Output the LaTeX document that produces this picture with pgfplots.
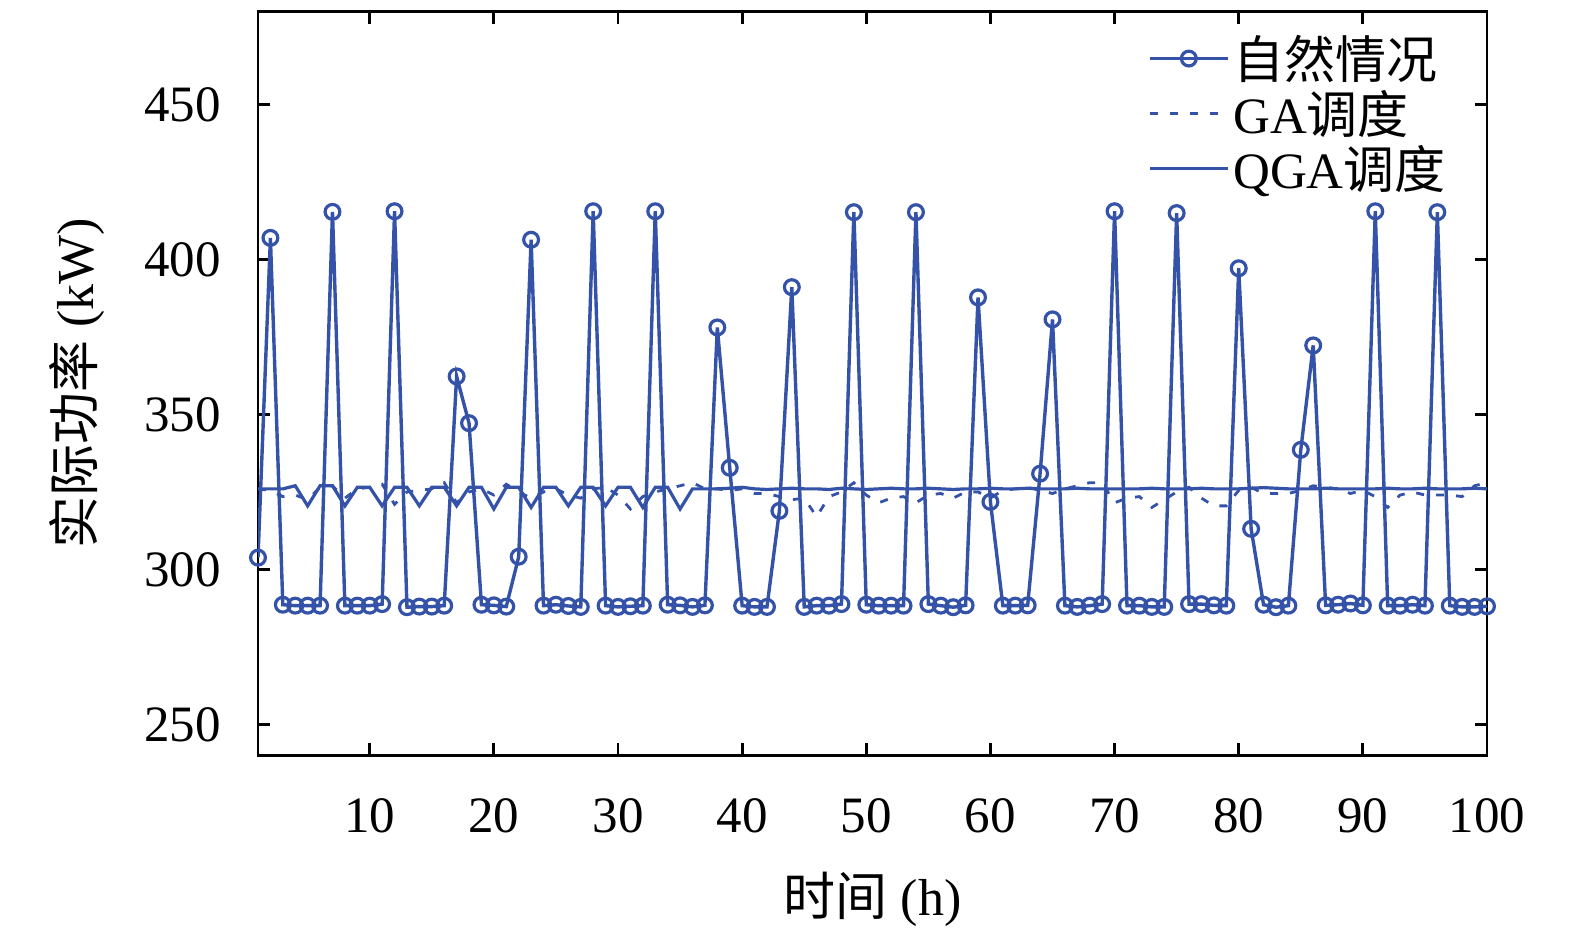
\documentclass[border=0pt]{standalone}
\usepackage{fontspec}
\setmainfont{Liberation Serif}
\newfontfamily\cjk{Noto Sans CJK SC}
\usepackage{pgfplots}
\pgfplotsset{compat=1.18}
\usepackage{pgfplotstable}
\definecolor{lb}{RGB}{52,82,168}

\pgfplotstableread{
x y
1 303.8
2 407.0
3 288.6
4 288.3
5 288.3
6 288.3
7 415.4
8 288.3
9 288.3
10 288.3
11 288.8
12 415.6
13 287.8
14 288.0
15 288.0
16 288.3
17 362.3
18 347.2
19 288.6
20 288.4
21 288.0
22 304.1
23 406.4
24 288.3
25 288.6
26 288.2
27 287.9
28 415.6
29 288.3
30 287.9
31 288.1
32 288.3
33 415.6
34 288.6
35 288.4
36 287.9
37 288.4
38 378.1
39 332.8
40 288.3
41 287.9
42 287.9
43 318.9
44 391.1
45 287.9
46 288.3
47 288.3
48 288.8
49 415.3
50 288.6
51 288.3
52 288.3
53 288.3
54 415.3
55 288.8
56 288.3
57 287.8
58 288.4
59 387.8
60 321.8
61 288.3
62 288.3
63 288.4
64 330.9
65 380.7
66 288.3
67 287.9
68 288.3
69 288.8
70 415.6
71 288.3
72 288.3
73 287.9
74 287.9
75 415.0
76 288.8
77 288.8
78 288.4
79 288.3
80 397.2
81 313.1
82 288.6
83 287.8
84 288.3
85 338.6
86 372.3
87 288.4
88 288.6
89 289.0
90 288.4
91 415.6
92 288.3
93 288.3
94 288.6
95 288.3
96 415.3
97 288.3
98 287.9
99 287.9
100 288.1
}\natural

\pgfplotstableread{
x y
1 326
2 325.5
3 323.5
4 324
5 322.5
6 326.5
7 327
8 323
9 326
10 326.5
11 327.5
12 321
13 325
14 325.5
15 326
16 328
17 321.5
18 325
19 326
20 324
21 327.5
22 325
23 323
24 325
25 326
26 324
27 323
28 326
29 326.5
30 324
31 319.5
32 323.5
33 325
34 326
35 327
36 328
37 326
38 326
39 325.5
40 326
41 324.5
42 324.5
43 323.5
44 322.5
45 323
46 317
47 323.5
48 325
49 328
50 324
51 321.5
52 323
53 323.5
54 321.5
55 324
56 324.5
57 323
58 325
59 325
60 323
61 325.5
62 326
63 326.5
64 325.5
65 324.5
66 326
67 327
68 328
69 328
70 321.5
71 323
72 323.5
73 320
74 322.5
75 325
76 326.5
77 323
78 320.5
79 320.5
80 325.5
81 326.5
82 324.5
83 324.5
84 324.5
85 325.5
86 327
87 326.5
88 326
89 324.5
90 325.5
91 323.5
92 320
93 324
94 325
95 324
96 324
97 324
98 323.5
99 327
100 328
}\ga

\pgfplotstableread{
x y
1 326
2 326
3 326
4 327
5 320.5
6 327
7 327
8 320.5
9 326.5
10 326.5
11 320.5
12 326.5
13 326.5
14 320.5
15 326.5
16 326.5
17 320.5
18 326.5
19 326.5
20 319.5
21 326.5
22 326.5
23 320
24 326.5
25 326.5
26 320.5
27 326.5
28 326.5
29 320.5
30 326.5
31 326.5
32 320
33 326.5
34 326.5
35 319.5
36 326
37 326
38 326
39 326.2
40 326.5
41 326
42 325.8
43 326
44 326.2
45 326
46 326
47 325.8
48 326.2
49 326
50 325.8
51 326
52 326.2
53 326
54 326
55 326.2
56 326
57 325.8
58 326
59 326
60 326.2
61 326
62 326
63 326.2
64 326
65 326
66 326
67 326.2
68 326
69 326
70 326
71 326
72 326
73 326.2
74 326
75 326
76 326
77 326.2
78 326
79 326
80 326
81 326.2
82 326.4
83 326.2
84 326
85 326
86 326
87 326.2
88 326
89 326
90 326
91 326
92 326.2
93 326
94 326
95 326.2
96 326
97 326
98 326
99 326.2
100 326
}\qga

\begin{document}
\begin{tikzpicture}
\begin{axis}[
  name=ax,
  scale only axis,
  width=614.5pt, height=371.8pt,
  xmin=1, xmax=100, ymin=240, ymax=480,
  xtick={10,20,...,100},
  ytick={250,300,...,450},
  tick align=inside,
  major tick length=6pt,
  axis line style={line width=1.4pt, black},
  every tick/.style={black, line width=1.4pt},
  /pgf/number format/assume math mode=true,
  tick label style={font=\fontsize{25.5}{29}\selectfont},
  xticklabel style={yshift=-18pt},
  yticklabel style={xshift=-15pt},
  xlabel={{\cjk 时间} (h)},
  ylabel={{\cjk 实际功率} (kW)},
  label style={font=\fontsize{26}{30}\selectfont},
  xlabel style={at={(axis description cs:0.5,-0.193)}, anchor=center},
  ylabel style={at={(axis description cs:-0.147,0.5)}, anchor=center},
  legend style={at={(0.970,0.974)}, anchor=north east, draw=none, fill=none,
    font=\fontsize{25.5}{29}\selectfont, inner sep=0pt, row sep=0.5pt,
    nodes={inner sep=2pt}},
  legend cell align=left,
  legend image code/.code={\draw[mark repeat=2,mark phase=2,#1] plot coordinates {(0cm,0cm) (0.68cm,0cm) (1.36cm,0cm)};},
]
\addplot[lb, line width=1.7pt, mark=o, mark size=3.7pt, mark options={solid, line width=1.6pt}] table[x=x,y=y] {\natural};
\addlegendentry{{\cjk 自然情况}}
\addplot[lb, line width=1.4pt, dash pattern=on 4pt off 6pt] table[x=x,y=y] {\ga};
\addlegendentry{GA{\cjk 调度}}
\addplot[lb, line width=1.6pt] table[x=x,y=y] {\qga};
\addlegendentry{QGA{\cjk 调度}}
\end{axis}
\path ([xshift=-129pt,yshift=-87.85pt]ax.south west) rectangle ([xshift=44pt,yshift=5.85pt]ax.north east);
\end{tikzpicture}
\end{document}
